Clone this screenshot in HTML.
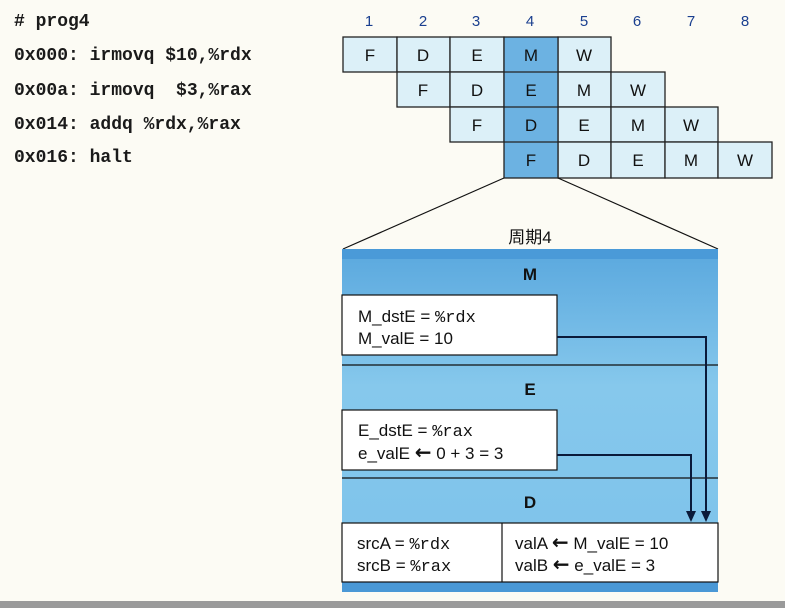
<!DOCTYPE html>
<html><head><meta charset="utf-8"><style>
html,body{margin:0;padding:0;background:#fcfbf4;}
svg{display:block}
.m{font-family:"Liberation Mono",monospace;font-size:18px;font-weight:bold;fill:#1a1a1a}
.s{font-family:"Liberation Sans",sans-serif;font-size:17px;fill:#111}
.n{font-family:"Liberation Sans",sans-serif;font-size:15px;fill:#1a3f8f}
.c{font-family:"Liberation Sans",sans-serif;font-size:17px;fill:#111;text-anchor:middle}
.t{font-family:"Liberation Mono",monospace;font-size:17px;fill:#111}
.a{font-family:"DejaVu Sans",sans-serif;font-size:20px;font-weight:bold}
</style></head><body>
<svg width="785" height="608" viewBox="0 0 785 608">
<defs>
<linearGradient id="bg" x1="0" y1="0" x2="0" y2="1">
<stop offset="0" stop-color="#5aa8de"/><stop offset="0.4" stop-color="#86c8ec"/><stop offset="1" stop-color="#7cc2ea"/>
</linearGradient>
</defs>
<rect x="0" y="0" width="785" height="608" fill="#fcfbf4"/>
<rect x="0" y="601" width="785" height="7" fill="#9a9a9a"/>
<text class="m" x="14" y="26"># prog4</text>
<text class="m" x="14" y="60">0x000: irmovq $10,%rdx</text>
<text class="m" x="14" y="95" xml:space="preserve">0x00a: irmovq  $3,%rax</text>
<text class="m" x="14" y="129">0x014: addq %rdx,%rax</text>
<text class="m" x="14" y="162">0x016: halt</text>
<g class="n" text-anchor="middle">
<text x="369" y="26">1</text><text x="423" y="26">2</text><text x="476" y="26">3</text><text x="530" y="26">4</text>
<text x="584" y="26">5</text><text x="637" y="26">6</text><text x="691" y="26">7</text><text x="745" y="26">8</text>
</g>
<g stroke="#222" stroke-width="1.3" fill="#dcf0f8">
<rect x="343" y="37" width="54" height="35"/><rect x="397" y="37" width="53" height="35"/><rect x="450" y="37" width="54" height="35"/><rect x="558" y="37" width="53" height="35"/>
<rect x="397" y="72" width="53" height="35"/><rect x="450" y="72" width="54" height="35"/><rect x="558" y="72" width="53" height="35"/><rect x="611" y="72" width="54" height="35"/>
<rect x="450" y="107" width="54" height="35"/><rect x="558" y="107" width="53" height="35"/><rect x="611" y="107" width="54" height="35"/><rect x="665" y="107" width="53" height="35"/>
<rect x="558" y="142" width="53" height="36"/><rect x="611" y="142" width="54" height="36"/><rect x="665" y="142" width="53" height="36"/><rect x="718" y="142" width="54" height="36"/>
<rect x="504" y="37" width="54" height="141" fill="#6cb2e2"/>
<line x1="504" y1="72" x2="558" y2="72"/><line x1="504" y1="107" x2="558" y2="107"/><line x1="504" y1="142" x2="558" y2="142"/>
</g>
<g class="c">
<text x="370" y="61">F</text><text x="423" y="61">D</text><text x="477" y="61">E</text><text x="531" y="61">M</text><text x="584" y="61">W</text>
<text x="423" y="96">F</text><text x="477" y="96">D</text><text x="531" y="96">E</text><text x="584" y="96">M</text><text x="638" y="96">W</text>
<text x="477" y="131">F</text><text x="531" y="131">D</text><text x="584" y="131">E</text><text x="638" y="131">M</text><text x="691" y="131">W</text>
<text x="531" y="166">F</text><text x="584" y="166">D</text><text x="638" y="166">E</text><text x="691" y="166">M</text><text x="745" y="166">W</text>
</g>
<line x1="504" y1="178" x2="343" y2="249" stroke="#111" stroke-width="1.2"/>
<line x1="558" y1="178" x2="718" y2="249" stroke="#111" stroke-width="1.2"/>
<text x="530" y="243" class="c" style="font-family:'Liberation Sans','Noto Sans CJK SC',sans-serif">周期4</text>
<rect x="342" y="249" width="376" height="343" fill="url(#bg)"/>
<rect x="342" y="249" width="376" height="10" fill="#4a9ad8"/>
<rect x="342" y="582" width="376" height="10" fill="#4a98d6"/>
<line x1="342" y1="365" x2="718" y2="365" stroke="#111" stroke-width="1.2"/>
<line x1="342" y1="478" x2="718" y2="478" stroke="#111" stroke-width="1.2"/>
<text class="c" x="530" y="280" style="font-weight:bold">M</text>
<text class="c" x="530" y="395" style="font-weight:bold">E</text>
<text class="c" x="530" y="508" style="font-weight:bold">D</text>
<rect x="342" y="295" width="215" height="60" fill="#fff" stroke="#111" stroke-width="1.2"/>
<text class="s" x="358" y="322">M_dstE = <tspan class="t">%rdx</tspan></text>
<text class="s" x="358" y="344">M_valE = 10</text>
<rect x="342" y="410" width="215" height="60" fill="#fff" stroke="#111" stroke-width="1.2"/>
<text class="s" x="358" y="436">E_dstE = <tspan class="t">%rax</tspan></text>
<text class="s" x="358" y="459">e_valE <tspan class="a">←</tspan> 0 + 3 = 3</text>
<rect x="342" y="523" width="376" height="59" fill="#fff" stroke="#111" stroke-width="1.2"/>
<line x1="502" y1="523" x2="502" y2="582" stroke="#111" stroke-width="1.2"/>
<text class="s" x="357" y="549">srcA = <tspan class="t">%rdx</tspan></text>
<text class="s" x="357" y="571">srcB = <tspan class="t">%rax</tspan></text>
<text class="s" x="515" y="549">valA <tspan class="a">←</tspan> M_valE = 10</text>
<text class="s" x="515" y="571">valB <tspan class="a">←</tspan> e_valE = 3</text>
<polyline points="557,337 706,337 706,512" fill="none" stroke="#0a1a3a" stroke-width="2"/>
<polyline points="557,455 691,455 691,512" fill="none" stroke="#0a1a3a" stroke-width="2"/>
<path d="M701,511 L711,511 L706,522 z M686,511 L696,511 L691,522 z" fill="#0a1a3a"/>
</svg>
</body></html>
